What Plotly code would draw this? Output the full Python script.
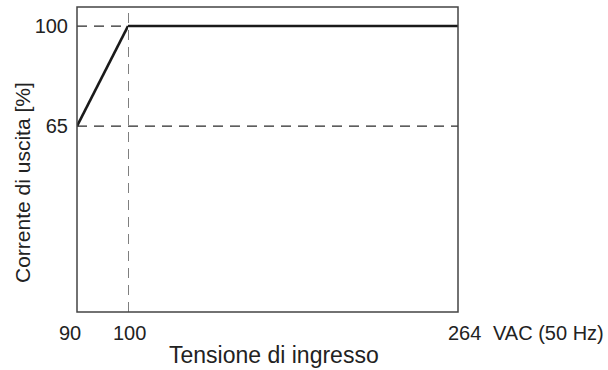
import plotly.graph_objects as go

# Output current derating vs. input voltage
v_low = [90, 100]          # input voltage, derating section (VAC)
i_low = [65, 100]          # output current (%)
v_high = [100, 264]        # input voltage, full-load section (VAC)
i_high = [100, 100]        # output current (%)

x_ticks = [90, 100, 264]
y_ticks = [65, 100]
x_unit = "VAC (50 Hz)"
x_title = "Tensione di ingresso"
y_title = "Corrente di uscita [%]"

FONT = "Liberation Sans, Arial, Helvetica, sans-serif"
TXT = "#222222"
split = 51 / 381  # share of width given to the 90-100 V segment

fig = go.Figure()
fig.add_trace(go.Scatter(x=v_low, y=i_low, mode="lines", xaxis="x", yaxis="y",
                         line=dict(color="#1a1a1a", width=2.6), showlegend=False))
fig.add_trace(go.Scatter(x=v_high, y=i_high, mode="lines", xaxis="x2", yaxis="y",
                         line=dict(color="#1a1a1a", width=2.6), showlegend=False))

dash = dict(color="#2a2a2a", width=1.2, dash="10px,7px")
# horizontal reference lines
for yv in y_ticks:
    fig.add_shape(type="line", xref="paper", yref="y", x0=0, x1=1, y0=yv, y1=yv,
                  line=dash, layer="below")
# vertical reference line at 100 V
fig.add_shape(type="line", xref="x2", yref="paper", x0=x_ticks[1], x1=x_ticks[1],
              y0=0, y1=1, line=dash, layer="below")
# frame
fig.add_shape(type="rect", xref="paper", yref="paper", x0=0, x1=1, y0=0, y1=1,
              line=dict(color="#444444", width=1.5))

# x tick labels
tick_font = dict(family=FONT, size=20, color=TXT)
fig.add_annotation(x=x_ticks[0], xref="x", y=0, yref="paper", text=str(x_ticks[0]),
                   showarrow=False, xanchor="center", yanchor="top", xshift=-7, yshift=-8,
                   font=tick_font)
fig.add_annotation(x=x_ticks[1], xref="x2", y=0, yref="paper", text=str(x_ticks[1]),
                   showarrow=False, xanchor="center", yanchor="top", xshift=1, yshift=-8,
                   font=tick_font)
fig.add_annotation(x=x_ticks[2], xref="x2", y=0, yref="paper", text=str(x_ticks[2]),
                   showarrow=False, xanchor="left", yanchor="top", xshift=-12, yshift=-8,
                   font=tick_font)
fig.add_annotation(x=x_ticks[2], xref="x2", y=0, yref="paper", text=x_unit,
                   showarrow=False, xanchor="left", yanchor="top", xshift=33, yshift=-8,
                   font=tick_font)

# axis titles
fig.add_annotation(x=0.5, xref="paper", y=0, yref="paper", text=x_title,
                   showarrow=False, xanchor="center", yanchor="top", xshift=6, yshift=-28,
                   font=dict(family=FONT, size=23, color=TXT))
fig.add_annotation(x=0, xref="paper", y=0.423, yref="paper", text=y_title, textangle=-90,
                   showarrow=False, xanchor="center", yanchor="middle", xshift=-54,
                   font=dict(family=FONT, size=21, color=TXT))

fig.update_layout(
    width=608, height=370,
    margin=dict(l=77, r=150, t=7, b=58),
    paper_bgcolor="white", plot_bgcolor="white",
    xaxis=dict(domain=[0, split], range=[90, 100], showticklabels=False, ticks="",
               showgrid=False, zeroline=False, showline=False),
    xaxis2=dict(domain=[split, 1], range=[100, 264], anchor="y", showticklabels=False,
                ticks="", showgrid=False, zeroline=False, showline=False),
    yaxis=dict(range=[0, 106.67], tickvals=y_ticks, ticktext=[str(v) for v in y_ticks],
               ticks="", ticklabelstandoff=8, showgrid=False, zeroline=False, showline=False,
               tickfont=tick_font),
)

fig.write_html("out.html")
